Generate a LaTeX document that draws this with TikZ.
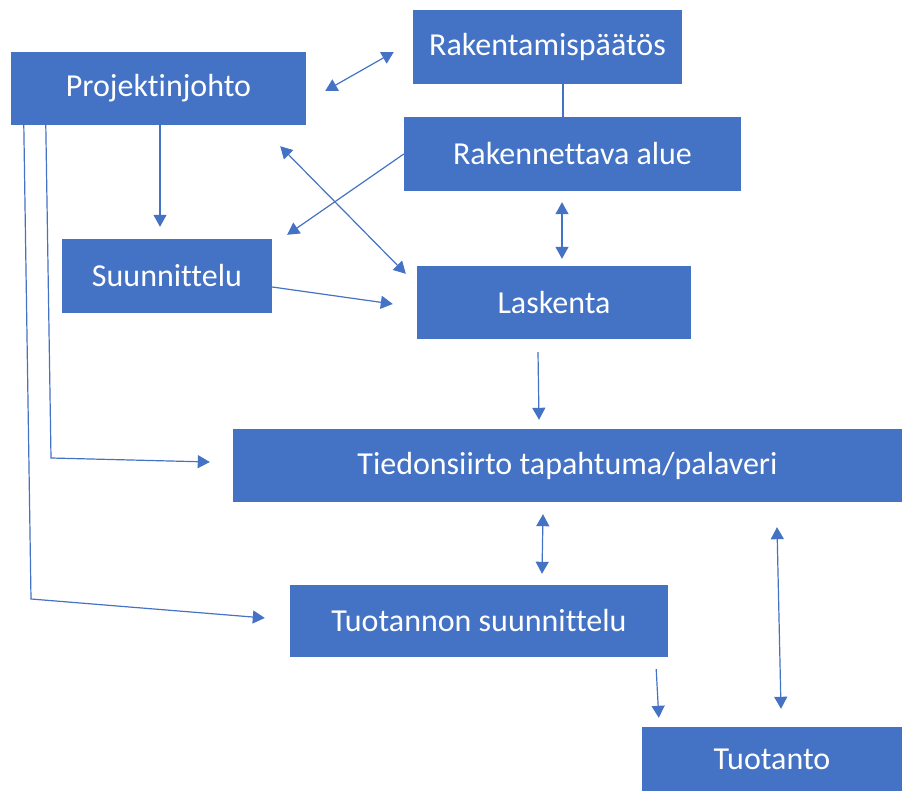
\documentclass[tikz,border=0pt]{standalone}
\usepackage{fontspec}
\setmainfont{Carlito}[Ligatures=NoCommon]
\usetikzlibrary{calc,arrows.meta}
\definecolor{officeblue}{HTML}{4472C4}
\tikzset{
	box/.style={fill=officeblue, text=white, inner sep=0pt, font=\fontsize{32}{38}\selectfont},
	plainlink/.style={draw=officeblue, line width=1.2pt},
	link/.style={plainlink, -{Triangle[width=13pt,length=12pt]}},
	duo/.style={plainlink, {Triangle[width=13pt,length=12pt]}-{Triangle[width=13pt,length=12pt]}}
}

\begin{document}
\begin{tikzpicture}[x=1pt, y=-1pt]
			%%%%% START %%%%%
			\useasboundingbox (0,0) rectangle (902,791);
			
			\node[box, minimum width=295pt, minimum height=73pt] (proj) at (158.5, 88.5) {Projektinjohto};
			\node[box, minimum width=269pt, minimum height=74pt] (paatos) at (547.5, 47) {Rakentamisp\"a\"at\"os};
			\node[box, minimum width=337pt, minimum height=74pt] (alue) at (572.5, 154) {Rakennettava alue};
			\node[box, minimum width=274pt, minimum height=73pt] (lask) at (554, 302.5) {Laskenta};
			\node[box, minimum width=210pt, minimum height=74pt] (suun) at (167, 276) {Suunnittelu};
			\node[box, minimum width=669pt, minimum height=73pt] (tied) at (567.5, 465.5) {Tiedonsiirto tapahtuma/palaveri};
			\node[box, minimum width=378pt, minimum height=72pt] (tsuun) at (479, 621) {Tuotannon suunnittelu};
			\node[box, minimum width=260pt, minimum height=64pt] (tuot) at (772, 759) {Tuotanto};
			
			\coordinate (bendA) at (51, 458);
			\coordinate (bendB) at (31, 599);
			
			\draw[plainlink] ($(paatos.south)+(15.5,0)$) -- ($(alue.north)+(-9.5,0)$);
			\draw[duo] ($(proj.east)+(19,2.5)$) -- ($(paatos.west)+(-19,5)$);
			\draw[link] ($(proj.south)+(1.5,0)$) -- ($(suun.north)+(-7,-12)$);
			\draw[link] (alue.west) -- ($(suun.north east)+(15,-4)$);
			\draw[duo] ($(proj.south east)+(-26,21)$) -- ($(lask.north west)+(-11,8)$);
			\draw[link] ($(suun.east)+(0,11)$) -- ($(lask.west)+(-24,1.5)$);
			\draw[duo] ($(alue.south)+(-10.5,11)$) -- ($(lask.north)+(8,-7)$);
			\draw[link] ($(lask.south)+(-16,13)$) -- ($(tied.north)+(-28.5,-9)$);
			\draw[duo] ($(tied.south)+(-24.5,12)$) -- ($(tsuun.north)+(63,-11)$);
			\draw[duo] ($(tied.south)+(209.5,25)$) -- ($(tuot.north)+(9,-18)$);
			\draw[link] ($(tsuun.south east)+(-12,12)$) -- ($(tuot.north west)+(17,-9)$);
			
			\draw[link] ($(proj.south west)+(35,0)$) -- (bendA) -- ($(tied.west)+(-23,-3.5)$);
			\draw[link] ($(proj.south west)+(13,0)$) -- (bendB) -- ($(tsuun.west)+(-25,-3)$);
			
			%%%%% END %%%%%
\end{tikzpicture}
\end{document}
